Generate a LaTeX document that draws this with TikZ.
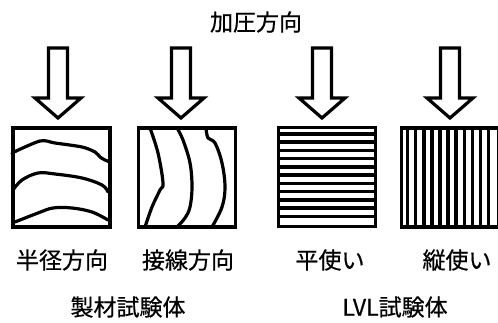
\documentclass[tikz,border=0pt]{standalone}
\usepackage{fontspec}
\newfontfamily\jpfont[FakeBold=0.5]{Noto Sans CJK JP}
\usepackage{tikz}
\usetikzlibrary{positioning}
\tikzset{specimen/.style={draw=black,line width=3.8pt,minimum width=97pt,minimum height=99pt,inner sep=0pt}}
\tikzset{grain/.style={line width=3.2pt,line cap=round,line join=round}}
\tikzset{caption/.style={font=\jpfont\fontsize{23}{26}\selectfont,inner sep=0pt}}

\begin{document}
\begin{tikzpicture}[x=1pt,y=-1pt]
\useasboundingbox (0,0) rectangle (498,322);
% \draw[help lines] (0,0) grid[step=10] (498,322);
\node (dir) [caption] at (256,22) {加圧方向};
%
\foreach \x in {58,181,322,450}
  \draw[line width=3.2pt,line join=miter] (\x-9.5,48) -- (\x+9.5,48) -- (\x+9.5,98)
    -- (\x+23,98) -- (\x,118) -- (\x-23,98) -- (\x-9.5,98) -- cycle;
%
\node (rad) [specimen] at (61.5,177.5) {};
\node (tan) [specimen] at (187,177.5) {};
\node (flat) [specimen] at (327,177) {};
\node (edge) [specimen] at (450,177.5) {};
% growth rings
\draw[grain] plot[smooth,tension=0.5] coordinates {(12,153) (40,141) (55,143) (82,147) (95,152) (100,157) (105,160) (110,162)};
\draw[grain] plot[smooth,tension=0.6] coordinates {(13,190) (22,180) (38,173) (55,174) (82,178) (102,185) (108,192)};
\draw[grain] plot[smooth,tension=0.6] coordinates {(15,222) (38,213) (53,208) (72,208) (92,212) (108,220)};
\draw[grain] plot[smooth,tension=0.6] coordinates {(150,128) (158,153) (163,183) (160,190) (152,207) (145,227)};
\draw[grain] plot[smooth,tension=0.6] coordinates {(177,128) (183,140) (190,163) (192,187) (190,207) (185,218) (177,227)};
\draw[grain] plot[smooth,tension=0.6] coordinates {(206,128) (208,138) (215,143) (222,163) (225,187) (222,207) (212,227)};
% veneer layers
\foreach \k in {1,...,11} {
  \draw[line width=3.4pt] ([yshift=-\k*99/12]flat.north west) -- ([yshift=-\k*99/12]flat.north east);
  \draw[line width=3.4pt] ([xshift=\k*97/12]edge.north west) -- ([xshift=\k*97/12]edge.south west);
}
%
\node (l1) [caption] at (62,260) {半径方向};
\node (l2) [caption] at (188,260) {接線方向};
\node (l3) [caption] at (330,260) {平使い};
\node (l4) [caption] at (457,260) {縦使い};
\node (sawn) [caption] at (128,307) {製材試験体};
\node (lvl) [caption] at (395,307) {LVL試験体};
\end{tikzpicture}
\end{document}
